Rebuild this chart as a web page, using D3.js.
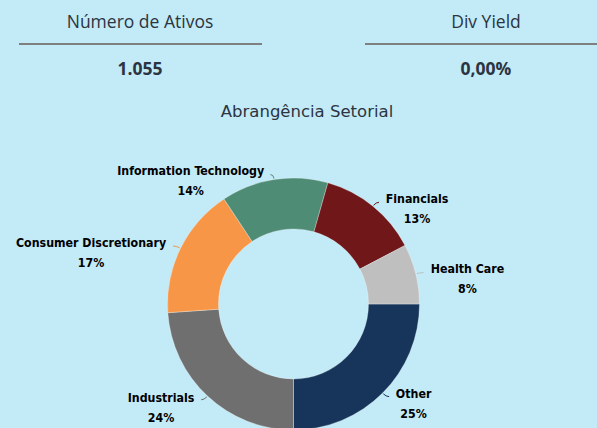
<!DOCTYPE html>
<html>
<head>
<meta charset="utf-8">
<script src="https://cdn.jsdelivr.net/npm/d3@7"></script>
<style>
  html, body { margin: 0; padding: 0; background: #c3eaf7; }
  svg { display: block; }
</style>
</head>
<body>
<div id="chart"></div>
<script>
var kpiTitles = ["Número de Ativos", "Div Yield"]
var kpiValues = ["1.055", "0,00%"]

var sectors = ["Other", "Industrials", "Consumer Discretionary", "Information Technology", "Financials", "Health Care"]
var shares = [25.0, 23.9, 16.8, 13.7, 12.9, 7.7]

var color = d3.scaleOrdinal()
  .domain(sectors)
  .range(["#17355a", "#6f6f6f", "#f79646", "#4e8c75", "#701719", "#bfbfbf"])

var W = 597, H = 428

var svg = d3.select("#chart").append("svg")
  .attr("width", W)
  .attr("height", H)

svg.append("rect").attr("width", W).attr("height", H).attr("fill", "#c3eaf7")

// kpi header
var kx = d3.scalePoint().domain(kpiTitles).range([140, 486])
var lineSpans = [[19, 262], [365, 597]]

kpiTitles.forEach(function (t, i) {
  svg.append("text")
    .text(t)
    .attr("x", kx(t))
    .attr("y", 28)
    .attr("text-anchor", "middle")
    .attr("font-family", "Open Sans")
    .attr("font-size", 17.5)
    .attr("fill", "#2b3440")

  svg.append("line")
    .attr("x1", lineSpans[i][0])
    .attr("x2", lineSpans[i][1])
    .attr("y1", 44)
    .attr("y2", 44)
    .attr("stroke", "#7f7f7f")
    .attr("stroke-width", 2)

  svg.append("text")
    .text(kpiValues[i])
    .attr("x", kx(t))
    .attr("y", 75)
    .attr("text-anchor", "middle")
    .attr("font-family", "Open Sans")
    .attr("font-weight", "bold")
    .attr("font-size", 17.5)
    .attr("fill", "#2b3440")
})

svg.append("text")
  .text("Abrangência Setorial")
  .attr("x", 307)
  .attr("y", 117)
  .attr("text-anchor", "middle")
  .attr("font-family", "DejaVu Sans")
  .attr("font-size", 16.5)
  .attr("fill", "#2b3440")

// donut
var cx = 293.5, cy = 304, rOut = 126, rIn = 75

var pie = d3.pie()
  .sort(null)
  .value(d => d.v)
  .startAngle(Math.PI / 2)
  .endAngle(Math.PI / 2 + 2 * Math.PI)

var data = sectors.map((s, i) => ({ name: s, v: shares[i] }))
var arcs = pie(data)

var arc = d3.arc().innerRadius(rIn).outerRadius(rOut)

var g = svg.append("g").attr("transform", "translate(" + cx + "," + cy + ")")

g.selectAll("slices")
  .data(arcs)
  .enter()
  .append("path")
  .attr("d", arc)
  .attr("fill", d => color(d.data.name))
  .attr("stroke", "#ffffff")
  .attr("stroke-opacity", 0.5)
  .attr("stroke-width", 0.6)

function mid(d) { return (d.startAngle + d.endAngle) / 2 }
function pt(a, r) { return [r * Math.sin(a), -r * Math.cos(a)] }

// small leader hooks
g.selectAll("leaders")
  .data(arcs)
  .enter()
  .append("path")
  .attr("d", function (d) {
    var a = mid(d)
    var p0 = pt(a, rOut + 1), p1 = pt(a, rOut + 5)
    var right = Math.sin(a) > 0
    var p2 = [p1[0] + (right ? 3 : -3), p1[1]]
    return "M" + p0 + "Q" + p1 + " " + p2
  })
  .attr("fill", "none")
  .attr("stroke", d => color(d.data.name))
  .attr("stroke-width", 1)

// labels
var labels = g.selectAll("labels")
  .data(arcs)
  .enter()
  .append("g")
  .attr("font-family", "'DejaVu Sans Condensed', 'DejaVu Sans'")
  .attr("font-weight", "bold")
  .attr("font-size", 12.3)
  .attr("fill", "#000")

labels.each(function (d) {
  var a = mid(d)
  var p = pt(a, rOut + 6)
  var right = Math.sin(a) > 0
  var sel = d3.select(this)
  var t1 = sel.append("text").text(d.data.name).attr("y", p[1] + 1)
  var w = t1.node().getComputedTextLength()
  var left = right ? p[0] + 9 : p[0] - 9 - w
  t1.attr("x", left + w / 2).attr("text-anchor", "middle")
  sel.append("text")
    .text(Math.round(d.data.v) + "%")
    .attr("x", left + w / 2)
    .attr("y", p[1] + 21)
    .attr("text-anchor", "middle")
})
</script>
</body>
</html>
